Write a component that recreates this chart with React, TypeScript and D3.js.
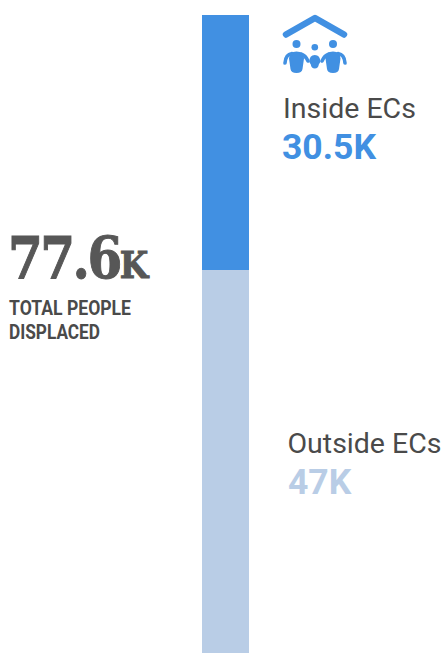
import React from "react";
import * as d3 from "d3";

const segmentNames = ["Inside ECs", "Outside ECs"];
const segmentValues = [30.5, 47];
const segmentLabels = ["30.5K", "47K"];
const segmentColors = ["#4190e2", "#b9cde6"];
const totalValue = "77.6";
const totalUnit = "K";
const totalCaption = ["TOTAL PEOPLE", "DISPLACED"];

const WIDTH = 443;
const HEIGHT = 653;
const BAR_X = 202;
const BAR_W = 47;

// The stacked column runs slightly past the bottom edge of the graphic.
const y = d3.scaleLinear().domain([0, d3.sum(segmentValues)]).range([15, 663]);
const stack = d3.cumsum(segmentValues);
const segments = segmentValues.map((v, i) => ({
  y0: y(i === 0 ? 0 : stack[i - 1]),
  y1: y(stack[i]),
  color: segmentColors[i],
}));

const ROBOTO = "Roboto, sans-serif";
const SLAB = "'DejaVu Serif', serif";

// Household figures sheltered under a roof.
function ShelterIcon({ color }: { color: string }) {
  const person = (cx: number, headY: number, head: number, w: number, top: number, bottom: number) => (
    <g>
      <circle cx={cx} cy={headY} r={head} fill={color} />
      <path
        d={`M${cx - w},${top + 7} Q${cx - w},${top} ${cx},${top} Q${cx + w},${top} ${cx + w},${top + 7} L${cx + w - 1.5},${bottom - 4} Q${cx + w - 2},${bottom} ${cx},${bottom} Q${cx - w + 2},${bottom} ${cx - w + 1.5},${bottom - 4} Z`}
        fill={color}
      />
    </g>
  );
  return (
    <g>
      <path
        d="M286,34.5 L315,18 L344,34.5"
        fill="none"
        stroke={color}
        strokeWidth={6.5}
        strokeLinecap="round"
        strokeLinejoin="round"
      />
      {person(296.5, 44, 4, 7.5, 51.5, 73)}
      {person(314.8, 47.3, 3.3, 5.5, 55, 68.5)}
      {person(333, 44, 4, 7.5, 51.5, 73)}
      <g fill="none" stroke={color} strokeWidth={3.6} strokeLinecap="round">
        <path d="M285,63 Q285.5,54.5 292,53.5" />
        <path d="M345,63 Q344.5,54.5 338,53.5" />
        <path d="M301,54 Q305.5,55.5 308,61" />
        <path d="M329,54 Q324.5,55.5 322,61" />
      </g>
    </g>
  );
}

export default function App() {
  return (
    <svg
      width={WIDTH}
      height={HEIGHT}
      viewBox={`0 0 ${WIDTH} ${HEIGHT}`}
      style={{ position: "absolute", left: 0, top: 0, background: "#fff" }}
    >
      {segments.map((s, i) => (
        <rect key={i} x={BAR_X} y={s.y0} width={BAR_W} height={s.y1 - s.y0} fill={s.color} />
      ))}

      <ShelterIcon color={segmentColors[0]} />

      <text x={283} y={118} fontFamily={ROBOTO} fontSize={28.5} fill="#4a4a4a">
        {segmentNames[0]}
      </text>
      <text x={282} y={159} fontFamily={ROBOTO} fontSize={35.5} fontWeight={700} fill={segmentColors[0]}>
        {segmentLabels[0]}
      </text>

      <text x={287.5} y={453} fontFamily={ROBOTO} fontSize={28.5} fill="#4a4a4a">
        {segmentNames[1]}
      </text>
      <text x={288} y={494} fontFamily={ROBOTO} fontSize={35.5} fontWeight={700} fill={segmentColors[1]}>
        {segmentLabels[1]}
      </text>

      <g transform="translate(8,278) scale(0.865,1)">
        <text
          fontFamily={SLAB}
          fontWeight={700}
          fontSize={58}
          fill="#575757"
          stroke="#575757"
          strokeWidth={1}
          letterSpacing={-3}
        >
          {totalValue}
          <tspan fontSize={38}>{totalUnit}</tspan>
        </text>
      </g>
      {totalCaption.map((line, i) => (
        <text
          key={line}
          x={9}
          y={315 + i * 23.5}
          fontFamily={ROBOTO}
          fontSize={20}
          fontWeight={700}
          fill="#4a4a4a"
          textLength={i === 0 ? 122 : 91}
          lengthAdjust="spacingAndGlyphs"
        >
          {line}
        </text>
      ))}
    </svg>
  );
}
